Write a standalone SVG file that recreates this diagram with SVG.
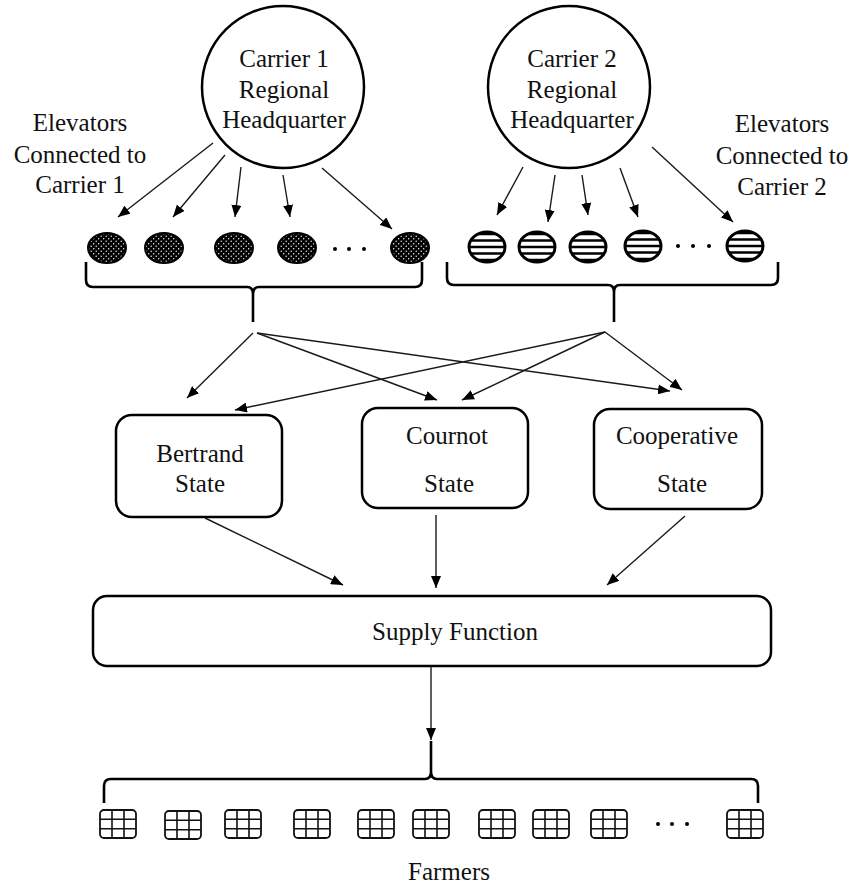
<svg xmlns="http://www.w3.org/2000/svg" width="854" height="886" viewBox="0 0 854 886">
  <style>
    .lbl { font-family: "Liberation Serif", "Times New Roman", serif; font-size: 25px; fill: #111; text-anchor: middle; }
    .hq { fill: #fff; stroke: #000; stroke-width: 2.5; }
    .box { fill: #fff; stroke: #000; stroke-width: 2.5; }
    .conn { fill: none; stroke: #1a1a1a; stroke-width: 1.4; marker-end: url(#tri); }
    .brace { fill: none; stroke: #000; stroke-width: 2.6; stroke-linejoin: round; }
    .dotted { fill: url(#dots); stroke: #000; stroke-width: 2; }
    .striped { fill: #fff; stroke: #000; stroke-width: 3; }
    .stripe { stroke: #000; stroke-width: 2.6; }
    .grid { fill: #fff; stroke: #111; stroke-width: 1.8; }
    .gridline { stroke: #111; stroke-width: 1.6; }
    .dot { fill: #000; }
  </style>
  <defs>
    <marker id="tri" viewBox="0 0 12 10" refX="12" refY="5" markerWidth="12" markerHeight="10" markerUnits="userSpaceOnUse" orient="auto">
      <path d="M0,0 L12,5 L0,10 Z" fill="#000"/>
    </marker>
    <pattern id="dots" width="5" height="5" patternUnits="userSpaceOnUse">
      <rect width="5" height="5" fill="#000"/>
      <circle cx="1.2" cy="1.2" r="0.7" fill="#fff"/>
      <circle cx="3.7" cy="3.7" r="0.7" fill="#fff"/>
    </pattern>
    <clipPath id="eclip">
      <ellipse cx="0" cy="0" rx="18" ry="15"/>
    </clipPath>
    <!-- horizontally striped elevator token, centred on origin -->
    <g id="stripedTok">
      <ellipse class="striped" cx="0" cy="0" rx="18" ry="15"/>
      <g clip-path="url(#eclip)">
        <line class="stripe" x1="-20" y1="-13" x2="20" y2="-13"/>
        <line class="stripe" x1="-20" y1="-6.5" x2="20" y2="-6.5"/>
        <line class="stripe" x1="-20" y1="0" x2="20" y2="0"/>
        <line class="stripe" x1="-20" y1="6.5" x2="20" y2="6.5"/>
        <line class="stripe" x1="-20" y1="13" x2="20" y2="13"/>
      </g>
    </g>
    <!-- farmer grid icon, top-left at origin -->
    <g id="farm">
      <rect class="grid" x="0" y="0" width="36" height="28" rx="4"/>
      <line class="gridline" x1="12" y1="0" x2="12" y2="28"/>
      <line class="gridline" x1="24" y1="0" x2="24" y2="28"/>
      <line class="gridline" x1="0" y1="9.3" x2="36" y2="9.3"/>
      <line class="gridline" x1="0" y1="18.7" x2="36" y2="18.7"/>
    </g>
  </defs>

  <rect width="854" height="886" fill="#fff"/>

  <!-- Regional headquarters -->
  <g id="hq1">
    <circle class="hq" cx="283" cy="87" r="81"/>
    <text class="lbl" x="284" y="67">Carrier 1</text>
    <text class="lbl" x="284" y="98">Regional</text>
    <text class="lbl" x="284" y="128">Headquarter</text>
  </g>
  <g id="hq2">
    <circle class="hq" cx="569" cy="87" r="81"/>
    <text class="lbl" x="572" y="67">Carrier 2</text>
    <text class="lbl" x="572" y="98">Regional</text>
    <text class="lbl" x="572" y="128">Headquarter</text>
  </g>

  <!-- Side captions -->
  <g id="caption1">
    <text class="lbl" x="80" y="131">Elevators</text>
    <text class="lbl" x="80" y="163">Connected to</text>
    <text class="lbl" x="80" y="193">Carrier 1</text>
  </g>
  <g id="caption2">
    <text class="lbl" x="782" y="132">Elevators</text>
    <text class="lbl" x="782" y="164">Connected to</text>
    <text class="lbl" x="782" y="195">Carrier 2</text>
  </g>

  <!-- Elevators of carrier 1 -->
  <g id="elevators1">
    <ellipse class="dotted" cx="107" cy="248" rx="19" ry="15"/>
    <ellipse class="dotted" cx="164" cy="248" rx="19" ry="15"/>
    <ellipse class="dotted" cx="234" cy="248" rx="19" ry="15"/>
    <ellipse class="dotted" cx="297" cy="248" rx="19" ry="15"/>
    <circle class="dot" cx="335" cy="249" r="2"/>
    <circle class="dot" cx="349" cy="249" r="2"/>
    <circle class="dot" cx="364" cy="249" r="2"/>
    <ellipse class="dotted" cx="410" cy="248" rx="19" ry="15"/>
  </g>

  <!-- Elevators of carrier 2 -->
  <g id="elevators2">
    <use href="#stripedTok" x="487" y="247"/>
    <use href="#stripedTok" x="537" y="247"/>
    <use href="#stripedTok" x="588" y="247"/>
    <use href="#stripedTok" x="643" y="246"/>
    <circle class="dot" cx="678" cy="246" r="2"/>
    <circle class="dot" cx="693" cy="246" r="2"/>
    <circle class="dot" cx="709" cy="246" r="2"/>
    <use href="#stripedTok" x="745" y="246"/>
  </g>

  <!-- Braces grouping the elevators -->
  <g id="brace1">
    <path class="brace" d="M86,262 V280 Q86,287 93,287 H247 Q253,287 253,294 V322 M253,294 Q253,287 259,287 H415 Q422,287 422,280 V262"/>
  </g>
  <g id="brace2">
    <path class="brace" d="M447,262 V278 Q447,285 454,285 H608 Q614,285 614,292 V322 M614,292 Q614,285 620,285 H771 Q778,285 778,278 V262"/>
  </g>

  <!-- Market states -->
  <g id="bertrand">
    <rect class="box" x="116" y="415" width="166" height="102" rx="16"/>
    <text class="lbl" x="200" y="462">Bertrand</text>
    <text class="lbl" x="200" y="492">State</text>
  </g>
  <g id="cournot">
    <rect class="box" x="362" y="408" width="166" height="100" rx="16"/>
    <text class="lbl" x="447" y="444">Cournot</text>
    <text class="lbl" x="449" y="492">State</text>
  </g>
  <g id="cooperative">
    <rect class="box" x="594" y="409" width="168" height="100" rx="16"/>
    <text class="lbl" x="677" y="444">Cooperative</text>
    <text class="lbl" x="682" y="492">State</text>
  </g>

  <!-- Supply function -->
  <g id="supply">
    <rect class="box" x="93" y="596" width="678" height="70" rx="14"/>
    <text class="lbl" x="455" y="640">Supply Function</text>
  </g>

  <!-- Farmers -->
  <g id="farmers">
    <path class="brace" d="M104,803 V786 Q104,779 111,779 H425 Q431,779 431,772 V741 M431,772 Q431,779 437,779 H751 Q758,779 758,786 V803"/>
    <use href="#farm" x="100" y="810"/>
    <use href="#farm" x="165" y="811"/>
    <use href="#farm" x="225" y="810"/>
    <use href="#farm" x="294" y="810"/>
    <use href="#farm" x="358" y="810"/>
    <use href="#farm" x="413" y="810"/>
    <use href="#farm" x="479" y="810"/>
    <use href="#farm" x="533" y="810"/>
    <use href="#farm" x="591" y="810"/>
    <circle class="dot" cx="658" cy="824" r="2"/>
    <circle class="dot" cx="672" cy="824" r="2"/>
    <circle class="dot" cx="687" cy="824" r="2"/>
    <use href="#farm" x="727" y="810"/>
    <text class="lbl" x="449" y="880">Farmers</text>
  </g>

  <!-- Connectors -->
  <g id="connectors">
    <path class="conn" d="M213,143 L118,217"/>
    <path class="conn" d="M225,155 L173,217"/>
    <path class="conn" d="M241,167 L235,217"/>
    <path class="conn" d="M283,175 L290,217"/>
    <path class="conn" d="M322,168 L392,229"/>

    <path class="conn" d="M523,167 L497,215"/>
    <path class="conn" d="M555,175 L548,222"/>
    <path class="conn" d="M582,175 L588,215"/>
    <path class="conn" d="M620,168 L638,217"/>
    <path class="conn" d="M652,147 L733,222"/>

    <path class="conn" d="M253,333 L187,398"/>
    <path class="conn" d="M257,333 L437,400"/>
    <path class="conn" d="M257,333 L670,391"/>
    <path class="conn" d="M605,332 L235,410"/>
    <path class="conn" d="M605,332 L462,400"/>
    <path class="conn" d="M605,332 L682,390"/>

    <path class="conn" d="M205,518 L343,585"/>
    <path class="conn" d="M436,515 L436,588"/>
    <path class="conn" d="M685,516 L607,585"/>

    <path class="conn" d="M431,667 L431,740"/>
  </g>
</svg>
